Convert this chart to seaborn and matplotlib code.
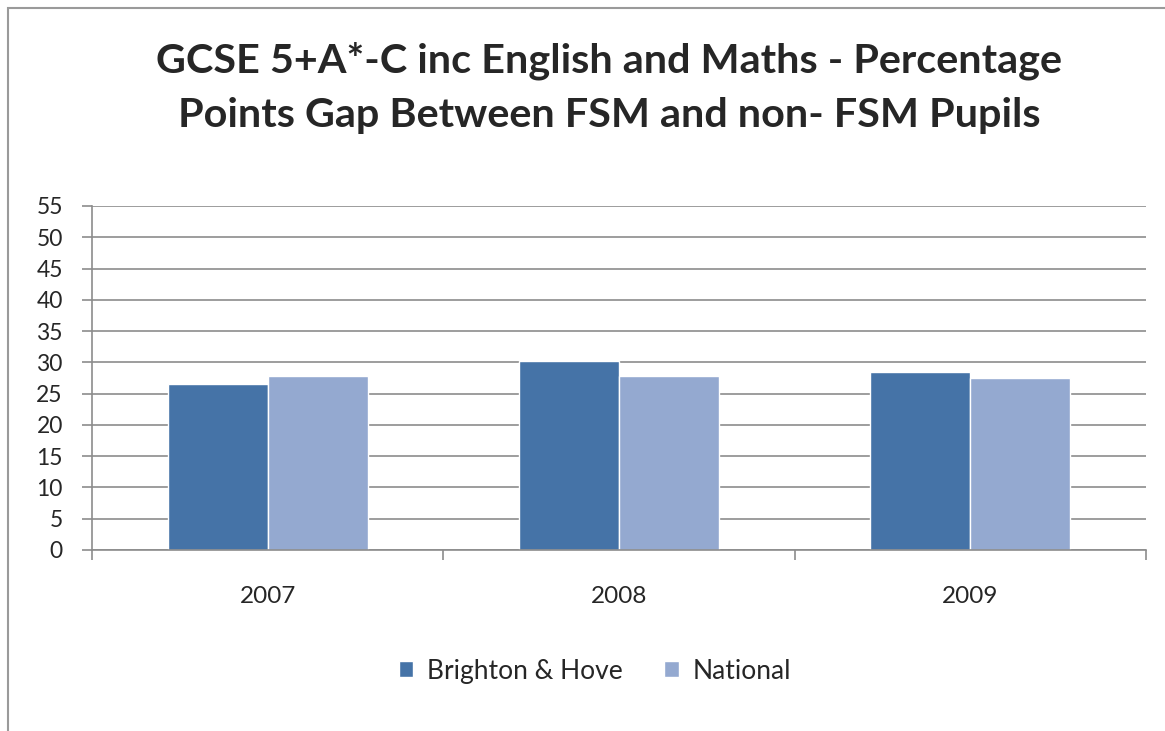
import matplotlib
matplotlib.use("Agg")
import matplotlib.pyplot as plt
import seaborn as sns
import pandas as pd
from matplotlib.patches import Rectangle

years = ["2007", "2008", "2009"]
brighton = [26.5, 30.2, 28.4]
national = [27.8, 27.8, 27.45]
series_names = ["Brighton & Hove", "National"]
colors = ["#4573A7", "#94A9D0"]

df = pd.DataFrame({
    "Year": years * 2,
    "Value": brighton + national,
    "Series": [series_names[0]] * 3 + [series_names[1]] * 3,
})

sns.set_theme(style="white")
plt.rcParams["font.family"] = ["Lato", "DejaVu Sans"]

fig = plt.figure(figsize=(11.65, 7.31), dpi=100)
ax = fig.add_axes([92 / 1165, 1 - 550 / 731, (1146 - 92) / 1165, (550 - 206) / 731])

sns.barplot(data=df, x="Year", y="Value", hue="Series", palette=colors,
            width=0.57, saturation=1, ax=ax, legend=True)

ax.set_ylim(0, 55)
ax.set_xlim(-0.5, 2.5)
ax.set_yticks(range(0, 56, 5))
ax.yaxis.grid(True, color="#8c8c8c", linewidth=1.2)
ax.set_axisbelow(True)
for s in ["top", "right"]:
    ax.spines[s].set_visible(False)
ax.spines["left"].set_color("#8c8c8c")
ax.spines["bottom"].set_color("#8c8c8c")
ax.spines["left"].set_linewidth(1.2)
ax.spines["bottom"].set_linewidth(1.2)
ax.tick_params(axis="y", length=7, color="#8c8c8c", width=1.2, labelsize=16.5,
               left=True, direction="out", pad=14)
ax.tick_params(axis="x", length=0, labelsize=17.5, pad=26)
ax.set_xticks([-0.5, 0.5, 1.5, 2.5], minor=True)
ax.tick_params(axis="x", which="minor", length=7, color="#8c8c8c", width=1.2,
               bottom=True, direction="out")
ax.set_xlabel("")
ax.set_ylabel("")

ax.legend(loc="center", bbox_to_anchor=(0.477, -0.352), ncol=2, frameon=False,
          fontsize=19, handlelength=0.55, handleheight=0.55, handletextpad=0.5,
          columnspacing=1.6)

fig.text(0.523, 1 - 61 / 731,
         "GCSE 5+A*-C inc English and Maths - Percentage",
         ha="center", va="center", fontsize=29.8, fontweight="bold")
fig.text(0.523, 1 - 115 / 731,
         "Points Gap Between FSM and non- FSM Pupils",
         ha="center", va="center", fontsize=29.8, fontweight="bold")

fig.patches.append(Rectangle((8 / 1165, -0.1), 1.2, 1 - 8 / 731 + 0.1,
                             transform=fig.transFigure, fill=False,
                             edgecolor="#9a9a9a", linewidth=1.5))

fig.savefig("out.png", dpi=100)
